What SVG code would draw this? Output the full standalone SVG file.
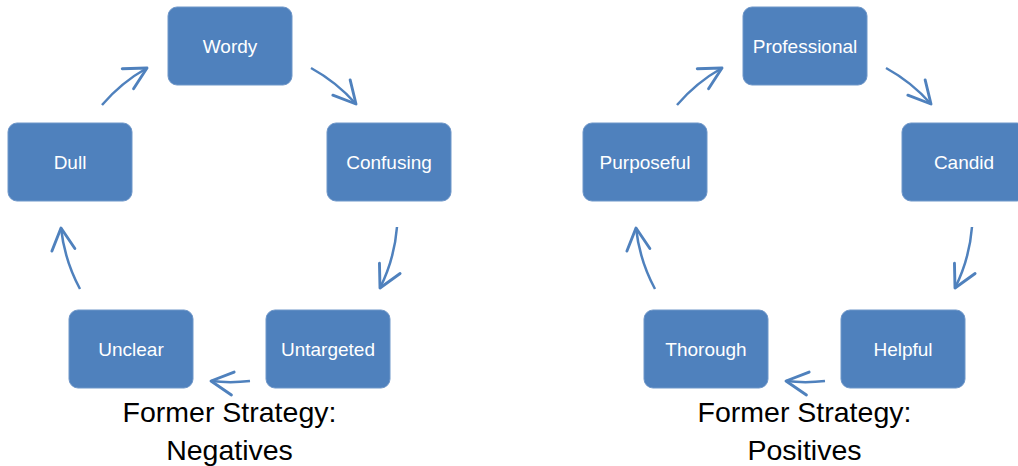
<svg xmlns="http://www.w3.org/2000/svg" width="1018" height="466" viewBox="0 0 1018 466">
<defs>
<style>
.box{fill:#4F81BD;stroke:#6F97C9;stroke-width:1}
.lbl{font-family:"Liberation Sans",Arial,sans-serif;font-size:19px;fill:#FFFFFF;text-anchor:middle}
.ttl{font-family:"Liberation Sans",Arial,sans-serif;font-size:28.5px;fill:#000000;text-anchor:middle}
.arc{fill:none;stroke:#4F81BD;stroke-width:2.5;marker-end:url(#chev)}
</style>
<marker id="chev" markerUnits="userSpaceOnUse" markerWidth="30" markerHeight="30" viewBox="-22 -13 26 26" refX="0" refY="0" orient="auto">
<path d="M-19,-10 L0,0 L-19,10" fill="none" stroke="#4F81BD" stroke-width="2.5" stroke-linecap="round" stroke-linejoin="round"/>
</marker>
</defs>
<rect width="1018" height="466" fill="#FFFFFF"/>
<g id="connectors">
<path class="arc" d="M102,105 A167,167 0 0 1 147,68"/>
<path class="arc" d="M311,68 A167,167 0 0 1 356,104"/>
<path class="arc" d="M397,227 A167,167 0 0 1 380,288"/>
<path class="arc" d="M250,381 A167,167 0 0 1 211,381"/>
<path class="arc" d="M80,289 A167,167 0 0 1 61,228"/>
<path class="arc" d="M677,105 A167,167 0 0 1 722,68"/>
<path class="arc" d="M886,68 A167,167 0 0 1 931,104"/>
<path class="arc" d="M972,227 A167,167 0 0 1 955,288"/>
<path class="arc" d="M825,381 A167,167 0 0 1 786,381"/>
<path class="arc" d="M655,289 A167,167 0 0 1 636,228"/>
</g>
<g id="node-wordy"><rect class="box" x="168" y="7" width="124" height="78" rx="9"/><text class="lbl" x="230" y="53">Wordy</text></g>
<g id="node-confusing"><rect class="box" x="327" y="123" width="124" height="78" rx="9"/><text class="lbl" x="389" y="169">Confusing</text></g>
<g id="node-untargeted"><rect class="box" x="266" y="310" width="124" height="78" rx="9"/><text class="lbl" x="328" y="356">Untargeted</text></g>
<g id="node-unclear"><rect class="box" x="69" y="310" width="124" height="78" rx="9"/><text class="lbl" x="131" y="356">Unclear</text></g>
<g id="node-dull"><rect class="box" x="8" y="123" width="124" height="78" rx="9"/><text class="lbl" x="70" y="169">Dull</text></g>
<g id="title-negatives"><text class="ttl" x="229.5" y="422">Former Strategy:</text><text class="ttl" x="229.5" y="460">Negatives</text></g>
<g id="node-professional"><rect class="box" x="743" y="7" width="124" height="78" rx="9"/><text class="lbl" x="805" y="53">Professional</text></g>
<g id="node-candid"><rect class="box" x="902" y="123" width="124" height="78" rx="9"/><text class="lbl" x="964" y="169">Candid</text></g>
<g id="node-helpful"><rect class="box" x="841" y="310" width="124" height="78" rx="9"/><text class="lbl" x="903" y="356">Helpful</text></g>
<g id="node-thorough"><rect class="box" x="644" y="310" width="124" height="78" rx="9"/><text class="lbl" x="706" y="356">Thorough</text></g>
<g id="node-purposeful"><rect class="box" x="583" y="123" width="124" height="78" rx="9"/><text class="lbl" x="645" y="169">Purposeful</text></g>
<g id="title-positives"><text class="ttl" x="804.5" y="422">Former Strategy:</text><text class="ttl" x="804.5" y="460">Positives</text></g>
</svg>
